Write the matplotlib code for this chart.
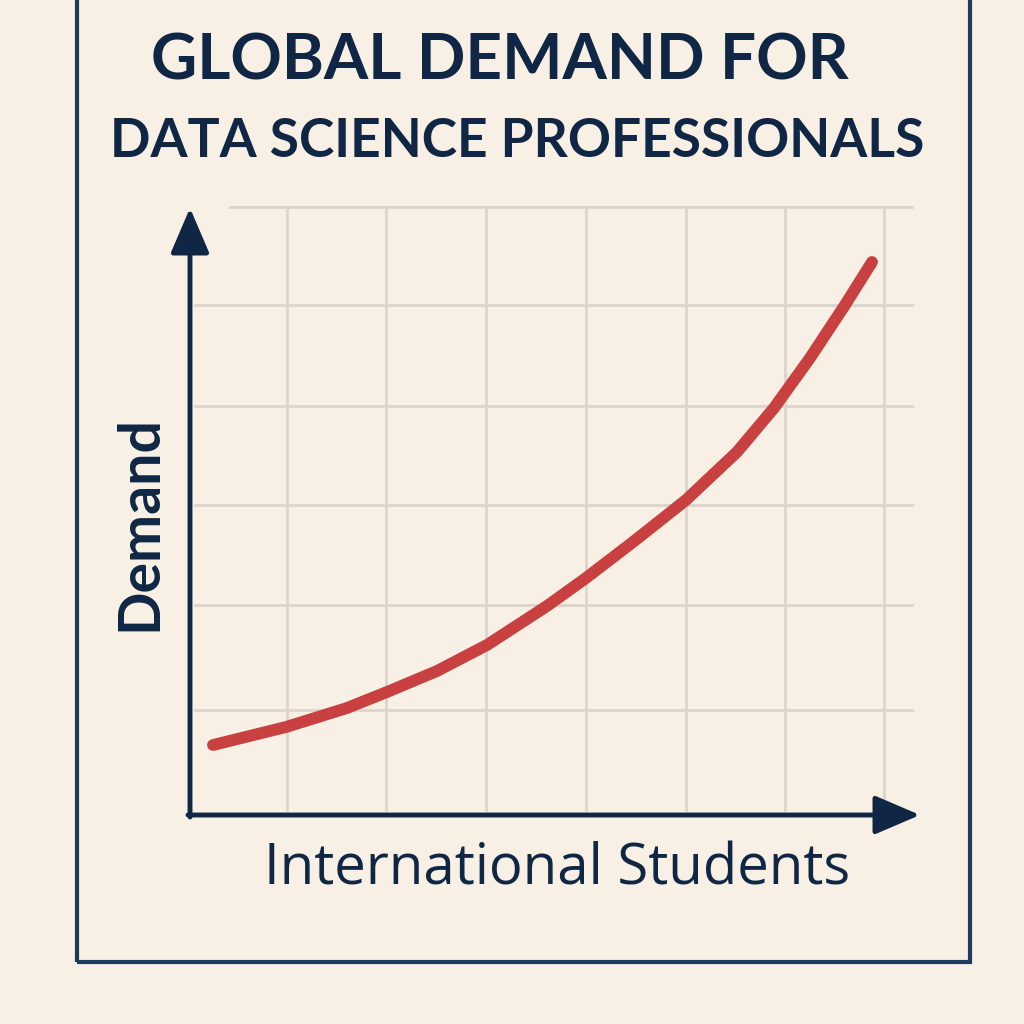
import matplotlib
matplotlib.use('Agg')
import matplotlib.pyplot as plt
from matplotlib.patches import Rectangle

# curve (grid units, one unit = one grid cell)
students = [0.23, 0.96, 1.57, 1.97, 2.47, 2.97, 3.57, 3.96, 4.43, 4.96,
            5.47, 5.84, 6.20, 6.55, 6.82]
demand = [0.70, 0.88, 1.07, 1.23, 1.44, 1.70, 2.09, 2.37, 2.73, 3.15,
          3.63, 4.07, 4.57, 5.10, 5.53]

gridX = [0.97, 1.96, 2.96, 3.96, 4.96, 5.95, 6.94]
gridY = [1.05, 2.10, 3.10, 4.09, 5.10, 6.08]

titleLine1 = "GLOBAL DEMAND FOR"
titleLine2 = "DATA SCIENCE PROFESSIONALS"
xLabel = "International Students"
yLabel = "Demand"

bg = '#f8efe5'
navy = '#0f2744'
frameColor = '#1b3a5c'
red = '#c8403f'
gridColor = '#ddd5cc'

W = 1024
fig = plt.figure(figsize=(10.24, 10.24), dpi=100, facecolor=bg)
renderer = fig.canvas.get_renderer()


def fitText(txt, cx, cy, width, **kw):
    # place text at pixel (cx, cy) and scale it to the given pixel width
    t = fig.text(cx/W, 1 - cy/W, txt, ha='center', **kw)
    bb = t.get_window_extent(renderer)
    span = bb.height if kw.get('rotation') == 90 else bb.width
    t.set_fontsize(t.get_fontsize() * width / span)
    return t


# outer frame (top edge runs off the picture)
fig.patches.append(Rectangle((77/W, 1 - 962/W), (970-77)/W, 962/W + 0.05,
                             transform=fig.transFigure, fill=False,
                             edgecolor=frameColor, linewidth=3))

left, right, top, bottom = 190, 920, 210, 815
ax = fig.add_axes([left/W, 1 - bottom/W, (right-left)/W, (bottom-top)/W])
ax.set_facecolor('none')
ax.set_xlim(0, (right-left)/100)
ax.set_ylim(0, (bottom-top)/100)
for s in ax.spines.values():
    s.set_visible(False)
ax.set_xticks([])
ax.set_yticks([])

# grid
for i, y in enumerate(gridY):
    x0 = 0.4 if i == len(gridY)-1 else 0.05
    ax.plot([x0, 7.22], [y, y], color=gridColor, lw=2, zorder=1, clip_on=False)
for x in gridX:
    ax.plot([x, x], [0.05, 6.08], color=gridColor, lw=2, zorder=1, clip_on=False)

# axes with arrows
arrow = dict(arrowstyle='-|>,head_length=1.4,head_width=0.6', mutation_scale=20,
             color=navy, lw=3.5, shrinkA=0, shrinkB=0)
ax.annotate('', xy=(7.3, 0), xytext=(-0.02, 0), arrowprops=arrow, zorder=3,
            annotation_clip=False)
ax.annotate('', xy=(0, 6.07), xytext=(0, -0.02), arrowprops=arrow, zorder=3,
            annotation_clip=False)

ax.plot(students, demand, color=red, lw=8.5, solid_capstyle='round',
        solid_joinstyle='round', zorder=4)

# title lines
titleFont = dict(color=navy, fontweight='bold', family='Lato', va='baseline')
fitText(titleLine1, 500, 80, 697, fontsize=46, **titleFont)
fitText(titleLine2, 517, 157, 815, fontsize=46, **titleFont)

fitText(xLabel, 557, 870, 585, color=navy, fontsize=40, family='Open Sans',
        va='center')
fitText(yLabel, 140, 523, 216, color=navy, fontsize=40, fontweight='bold',
        family='Lato', rotation=90, va='center')

plt.savefig('out.png', dpi=100, facecolor=bg)
